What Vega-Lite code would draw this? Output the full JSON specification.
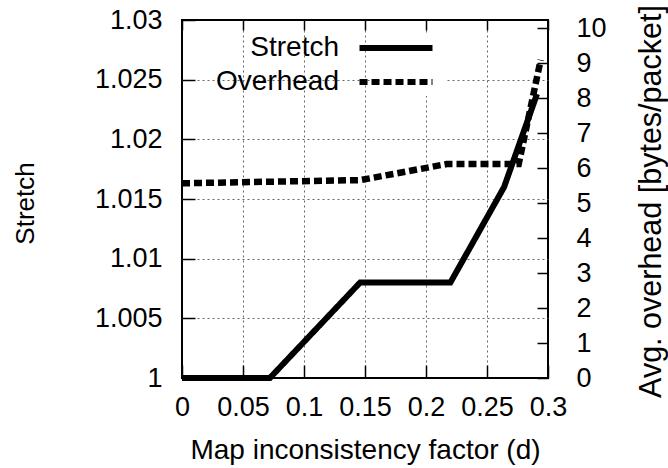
{
  "$schema": "https://vega.github.io/schema/vega-lite/v6.json",
  "width": 366,
  "height": 358,
  "autosize": {"type": "none"},
  "padding": {"left": 182, "top": 20, "right": 120, "bottom": 90},
  "background": "white",
  "config": {
    "view": {"stroke": "black", "strokeWidth": 2},
    "font": "Liberation Sans",
    "axis": {
      "labelFont": "Liberation Sans",
      "labelFontSize": 27,
      "labelColor": "black",
      "titleFont": "Liberation Sans",
      "titleFontSize": 28,
      "titleFontWeight": "normal",
      "titleColor": "black",
      "gridColor": "#666",
      "gridDash": [2, 3],
      "gridWidth": 1,
      "labelOverlap": false,
      "labelFlush": false
    },
    "legend": {
      "orient": "none",
      "legendX": 200,
      "legendY": 14,
      "title": null,
      "symbolType": "M-5,0H5",
      "symbolSize": 213,
      "symbolStrokeWidth": 6,
      "symbolStrokeColor": "black",
      "labelAlign": "right",
      "labelOffset": -71,
      "labelFont": "Liberation Sans",
      "labelFontSize": 28,
      "labelColor": "black",
      "fillColor": "white",
      "padding": 0,
      "rowPadding": 6
    }
  },
  "data": {
    "values": [
      {"series": "Stretch", "d": 0, "v": 1.0},
      {"series": "Stretch", "d": 0.072, "v": 1.0},
      {"series": "Stretch", "d": 0.146, "v": 1.008},
      {"series": "Stretch", "d": 0.22, "v": 1.008},
      {"series": "Stretch", "d": 0.264, "v": 1.016},
      {"series": "Stretch", "d": 0.291, "v": 1.0238},
      {"series": "Overhead", "d": 0, "v": 5.57},
      {"series": "Overhead", "d": 0.146, "v": 5.66},
      {"series": "Overhead", "d": 0.217, "v": 6.12},
      {"series": "Overhead", "d": 0.276, "v": 6.12},
      {"series": "Overhead", "d": 0.294, "v": 9.1}
    ]
  },
  "layer": [
    {
      "transform": [{"filter": "datum.series == 'Stretch'"}],
      "mark": {"type": "line", "strokeWidth": 6, "strokeCap": "butt", "strokeJoin": "miter"},
      "encoding": {
        "x": {
          "field": "d", "type": "quantitative",
          "scale": {"domain": [0, 0.3], "nice": false, "zero": false},
          "axis": {
            "orient": "bottom",
            "values": [0, 0.05, 0.1, 0.15, 0.2, 0.25, 0.3],
            "format": "~g",
            "domain": false,
            "ticks": true,
            "tickColor": "black",
            "tickWidth": 1.5,
            "tickSize": -13,
            "labelPadding": 29,
            "grid": true,
            "gridOpacity": {"condition": {"test": "datum.value == 0 || datum.value == 0.3", "value": 0}, "value": 1},
            "title": "Map inconsistency factor (d)",
            "titleY": 80,
            "titleBaseline": "alphabetic"
          }
        },
        "y": {
          "field": "v", "type": "quantitative",
          "scale": {"domain": [1, 1.03], "nice": false, "zero": false},
          "axis": {
            "orient": "left",
            "values": [1, 1.005, 1.01, 1.015, 1.02, 1.025, 1.03],
            "format": "~g",
            "domain": false,
            "ticks": true,
            "tickColor": "black",
            "tickWidth": 1.5,
            "tickSize": -13,
            "labelPadding": 33,
            "grid": true,
            "gridOpacity": {"condition": {"test": "datum.value == 1 || datum.value == 1.03", "value": 0}, "value": 1},
            "title": "Stretch",
            "titleFontSize": 26,
            "titleAngle": 270,
            "titleX": -149,
            "titleY": 183,
            "titleAlign": "center",
            "titleBaseline": "alphabetic"
          }
        },
        "color": {"field": "series", "type": "nominal", "scale": {"domain": ["Stretch", "Overhead"], "range": ["black", "black"]}},
        "strokeDash": {"field": "series", "type": "nominal", "scale": {"domain": ["Stretch", "Overhead"], "range": [[1, 0], [8, 4]]}}
      }
    },
    {
      "transform": [{"filter": "datum.series == 'Overhead'"}],
      "mark": {"type": "line", "strokeWidth": 6.5, "strokeCap": "butt", "strokeJoin": "miter"},
      "encoding": {
        "x": {
          "field": "d", "type": "quantitative",
          "axis": {
            "orient": "top",
            "values": [0, 0.05, 0.1, 0.15, 0.2, 0.25, 0.3],
            "labels": false,
            "domain": false,
            "ticks": true,
            "tickColor": "black",
            "tickWidth": 1.5,
            "tickSize": -10,
            "grid": false,
            "title": null
          }
        },
        "y": {
          "field": "v", "type": "quantitative",
          "scale": {"domain": [0, 10.24], "nice": false, "zero": false},
          "axis": {
            "orient": "right",
            "values": [0, 1, 2, 3, 4, 5, 6, 7, 8, 9, 10],
            "domain": false,
            "ticks": true,
            "tickColor": "black",
            "tickWidth": 1.5,
            "tickSize": -11,
            "labelPadding": 39,
            "grid": false,
            "title": "Avg. overhead [bytes/packet]",
            "titleFontSize": 30.5,
            "titleAngle": 270,
            "titleX": 112,
            "titleY": 181,
            "titleAlign": "center",
            "titleBaseline": "alphabetic"
          }
        },
        "color": {"field": "series", "type": "nominal"},
        "strokeDash": {"field": "series", "type": "nominal"}
      }
    }
  ],
  "resolve": {
    "scale": {"y": "independent"},
    "axis": {"x": "independent", "y": "independent"}
  }
}
